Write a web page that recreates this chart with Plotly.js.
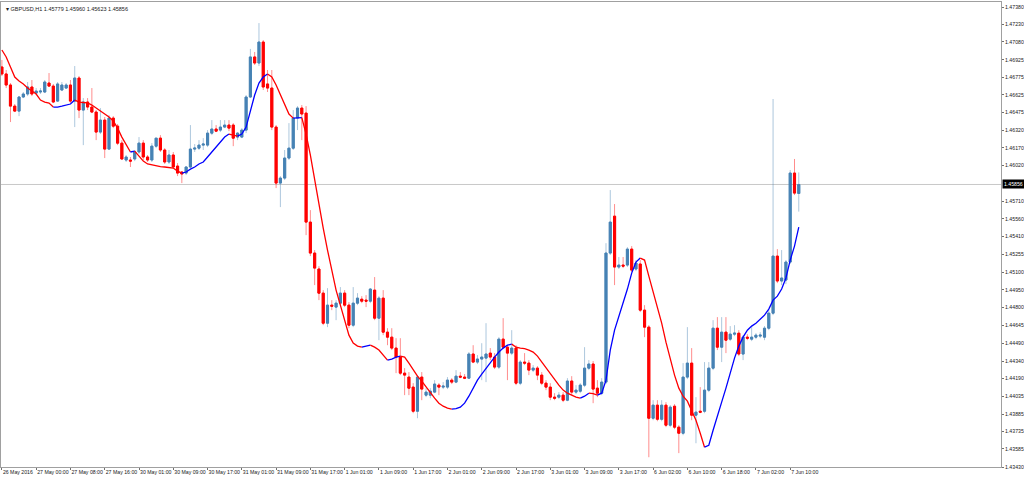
<!DOCTYPE html>
<html><head><meta charset="utf-8">
<script src="https://cdn.plot.ly/plotly-3.0.1.min.js"></script>
<style>html,body{margin:0;padding:0;background:#fff}#chart{width:1024px;height:480px}</style>
</head><body><div id="chart"></div>
<script>
const symbol = "GBPUSD,H1";

const openP = [
1.46865,1.46805,1.46710,1.46529,1.46486,1.46607,1.46633,1.46693,1.46641,1.46650,
1.46650,1.46727,1.46701,1.46572,1.46667,1.46684,1.46710,1.46572,1.46770,1.46495,
1.46564,1.46521,1.46478,1.46306,1.46409,1.46160,1.46426,1.46357,1.46211,1.46066,
1.46066,1.46075,1.46135,1.46211,1.46092,1.46066,1.46185,1.46254,1.46152,1.46049,
1.46109,1.46014,1.45963,1.45954,1.46006,1.46160,1.46168,1.46194,1.46194,1.46297,
1.46332,1.46323,1.46349,1.46366,1.46366,1.46263,1.46263,1.46323,1.46607,1.46951,
1.46899,1.47079,1.46719,1.46684,1.46349,1.45868,1.45911,1.46083,1.46168,1.46426,
1.46512,1.46469,1.45533,1.45267,1.45130,1.44923,1.44665,1.44820,1.44803,1.44837,
1.44923,1.44820,1.44648,1.44837,1.44871,1.44863,1.44854,1.44949,1.44708,1.44880,
1.44588,1.44545,1.44451,1.44374,1.44236,1.44202,1.44116,1.43909,1.44202,1.44047,
1.44047,1.44073,1.44133,1.44116,1.44116,1.44176,1.44159,1.44210,1.44202,1.44193,
1.44400,1.44331,1.44357,1.44365,1.44408,1.44374,1.44288,1.44528,1.44459,1.44408,
1.44451,1.44150,1.44331,1.44322,1.44262,1.44279,1.44219,1.44150,1.44116,1.44030,
1.44030,1.44047,1.44004,1.44168,1.44073,1.44081,1.44133,1.44279,1.44314,1.44107,
1.44064,1.44159,1.45267,1.45584,1.45147,1.45164,1.45164,1.45301,1.45130,1.45173,
1.44777,1.44631,1.43849,1.43961,1.43840,1.43961,1.43789,1.43952,1.43772,1.43720,
1.44202,1.44322,1.43875,1.43909,1.43909,1.44090,1.44279,1.44622,1.44459,1.44588,
1.44528,1.44571,1.44579,1.44400,1.44545,1.44528,1.44545,1.44554,1.44545,1.44622,
1.44751,1.45241,1.45027,1.45035,1.45190,1.45954,1.45779
];
const highP = [
1.46925,1.46839,1.46727,1.46547,1.46615,1.46650,1.46736,1.46753,1.46684,1.46684,
1.46753,1.46813,1.46719,1.46736,1.46736,1.46727,1.46753,1.46873,1.46787,1.46598,
1.46598,1.46684,1.46495,1.46512,1.46435,1.46452,1.46443,1.46375,1.46237,1.46109,
1.46092,1.46152,1.46263,1.46237,1.46109,1.46211,1.46254,1.46280,1.46168,1.46152,
1.46135,1.46040,1.45971,1.46014,1.46366,1.46203,1.46237,1.46254,1.46323,1.46409,
1.46366,1.46409,1.46409,1.46409,1.46383,1.46306,1.46340,1.46624,1.47020,1.46994,
1.47242,1.47096,1.46839,1.46839,1.46366,1.45928,1.46152,1.46383,1.46495,1.46529,
1.46538,1.46529,1.45636,1.45293,1.45155,1.44949,1.44966,1.44863,1.44863,1.44975,
1.44949,1.44846,1.44975,1.44923,1.44897,1.44906,1.44966,1.45061,1.44897,1.44949,
1.44622,1.44622,1.44536,1.44536,1.44279,1.44245,1.44150,1.44219,1.44245,1.44107,
1.44107,1.44176,1.44150,1.44159,1.44202,1.44193,1.44262,1.44245,1.44228,1.44417,
1.44476,1.44391,1.44493,1.44665,1.44451,1.44408,1.44545,1.44708,1.44476,1.44605,
1.44476,1.44348,1.44408,1.44348,1.44305,1.44296,1.44245,1.44176,1.44150,1.44064,
1.44073,1.44073,1.44193,1.44210,1.44133,1.44150,1.44459,1.44348,1.44340,1.44176,
1.44193,1.45352,1.45808,1.45688,1.45233,1.45233,1.45318,1.45327,1.45207,1.45207,
1.44820,1.44648,1.44004,1.44004,1.44004,1.43987,1.43961,1.43970,1.43789,1.44322,
1.44631,1.44451,1.44030,1.44116,1.44331,1.44331,1.44691,1.44717,1.44717,1.44717,
1.44640,1.44648,1.44605,1.44562,1.44571,1.44631,1.44579,1.44588,1.44640,1.44777,
1.46590,1.45301,1.45293,1.45207,1.45980,1.46075,1.45960
];
const lowP = [
1.46787,1.46684,1.46392,1.46478,1.46443,1.46598,1.46615,1.46615,1.46624,1.46633,
1.46641,1.46693,1.46555,1.46564,1.46658,1.46676,1.46555,1.46349,1.46426,1.46194,
1.46495,1.46469,1.46237,1.46289,1.46083,1.46152,1.46340,1.46194,1.46066,1.46049,
1.46006,1.46057,1.46118,1.46066,1.46049,1.46049,1.46168,1.46135,1.46032,1.46032,
1.45997,1.45928,1.45868,1.45937,1.45997,1.46135,1.46152,1.46152,1.46177,1.46280,
1.46306,1.46306,1.46340,1.46314,1.46185,1.46237,1.46254,1.46297,1.46598,1.46882,
1.46873,1.46667,1.46650,1.46323,1.45825,1.45662,1.45894,1.46066,1.46152,1.46323,
1.46237,1.45421,1.45241,1.44992,1.44863,1.44648,1.44631,1.44777,1.44691,1.44820,
1.44803,1.44622,1.44631,1.44820,1.44837,1.44803,1.44837,1.44691,1.44519,1.44562,
1.44476,1.44434,1.44236,1.44219,1.44047,1.44047,1.43892,1.43849,1.44004,1.44030,
1.44021,1.44064,1.44047,1.44099,1.44099,1.44142,1.44150,1.44193,1.44185,1.44185,
1.44322,1.44314,1.44176,1.44159,1.44348,1.44271,1.44271,1.44442,1.44176,1.44391,
1.44133,1.44133,1.44305,1.44219,1.44245,1.44176,1.44133,1.44090,1.44004,1.44004,
1.44013,1.43987,1.43995,1.44047,1.44056,1.44064,1.44116,1.44262,1.43978,1.44030,
1.44047,1.44142,1.45250,1.44992,1.45130,1.45138,1.45147,1.45104,1.45112,1.44760,
1.44545,1.43514,1.43832,1.43823,1.43823,1.43772,1.43772,1.43755,1.43549,1.43703,
1.44185,1.43832,1.43634,1.43892,1.43892,1.44073,1.44262,1.44434,1.44331,1.44408,
1.44511,1.44554,1.44382,1.44348,1.44519,1.44511,1.44528,1.44536,1.44519,1.44605,
1.44734,1.45009,1.44992,1.45001,1.45173,1.45765,1.45623
];
const closeP = [
1.46805,1.46710,1.46529,1.46486,1.46607,1.46633,1.46693,1.46633,1.46658,1.46658,
1.46736,1.46701,1.46564,1.46719,1.46710,1.46710,1.46572,1.46770,1.46495,1.46564,
1.46521,1.46478,1.46306,1.46409,1.46160,1.46426,1.46357,1.46211,1.46075,1.46092,
1.46057,1.46135,1.46211,1.46092,1.46066,1.46185,1.46254,1.46152,1.46049,1.46109,
1.46006,1.45954,1.45946,1.46006,1.46160,1.46168,1.46194,1.46203,1.46297,1.46332,
1.46314,1.46349,1.46366,1.46340,1.46254,1.46297,1.46323,1.46607,1.46951,1.46899,
1.47079,1.46693,1.46684,1.46349,1.45868,1.45911,1.46083,1.46168,1.46426,1.46512,
1.46461,1.45533,1.45267,1.45138,1.44923,1.44665,1.44820,1.44811,1.44837,1.44923,
1.44820,1.44648,1.44837,1.44880,1.44854,1.44854,1.44958,1.44708,1.44880,1.44588,
1.44545,1.44451,1.44374,1.44236,1.44219,1.44107,1.43909,1.44202,1.44099,1.44073,
1.44081,1.44142,1.44116,1.44124,1.44176,1.44159,1.44210,1.44202,1.44193,1.44400,
1.44331,1.44357,1.44374,1.44400,1.44374,1.44288,1.44528,1.44459,1.44408,1.44451,
1.44150,1.44331,1.44322,1.44262,1.44279,1.44219,1.44150,1.44116,1.44030,1.44021,
1.44047,1.44004,1.44168,1.44073,1.44090,1.44133,1.44279,1.44314,1.44099,1.44064,
1.44159,1.45267,1.45533,1.45147,1.45164,1.45155,1.45301,1.45121,1.45181,1.44777,
1.44631,1.43849,1.43961,1.43840,1.43961,1.43789,1.43944,1.43772,1.43720,1.44202,
1.44322,1.43875,1.43901,1.43901,1.44090,1.44279,1.44622,1.44459,1.44588,1.44519,
1.44571,1.44579,1.44400,1.44545,1.44536,1.44545,1.44562,1.44562,1.44622,1.44751,
1.45241,1.45027,1.45053,1.45190,1.45954,1.45782,1.45856
];
const maLine = [
1.47011,1.46951,1.46865,1.46779,1.46744,1.46719,1.46684,1.46658,1.46633,1.46581,
1.46564,1.46555,1.46521,1.46521,1.46529,1.46538,1.46547,1.46581,1.46564,1.46560,
1.46556,1.46538,1.46512,1.46486,1.46461,1.46435,1.46401,1.46340,1.46263,1.46203,
1.46135,1.46143,1.46100,1.46057,1.46032,1.46023,1.46014,1.46010,1.46006,1.46002,
1.45997,1.45971,1.45954,1.45963,1.45988,1.46006,1.46032,1.46049,1.46092,1.46135,
1.46177,1.46220,1.46263,1.46289,1.46280,1.46271,1.46289,1.46349,1.46495,1.46624,
1.46727,1.46779,1.46805,1.46779,1.46710,1.46624,1.46538,1.46461,1.46426,1.46430,
1.46430,1.46289,1.46109,1.45894,1.45679,1.45481,1.45293,1.45121,1.44949,1.44820,
1.44691,1.44562,1.44494,1.44468,1.44459,1.44468,1.44476,1.44459,1.44434,1.44391,
1.44348,1.44357,1.44374,1.44382,1.44374,1.44322,1.44262,1.44210,1.44168,1.44116,
1.44064,1.44021,1.43978,1.43952,1.43935,1.43927,1.43931,1.43944,1.43978,1.44038,
1.44107,1.44176,1.44228,1.44279,1.44331,1.44374,1.44417,1.44451,1.44476,1.44485,
1.44459,1.44451,1.44446,1.44434,1.44417,1.44382,1.44331,1.44279,1.44236,1.44185,
1.44133,1.44090,1.44064,1.44047,1.44030,1.44021,1.44038,1.44064,1.44060,1.44047,
1.44064,1.44176,1.44434,1.44605,1.44726,1.44829,1.44958,1.45095,1.45190,1.45224,
1.45207,1.45069,1.44932,1.44794,1.44665,1.44502,1.44348,1.44219,1.44107,1.44038,
1.43995,1.43918,1.43832,1.43720,1.43600,1.43617,1.43746,1.43875,1.43987,1.44107,
1.44236,1.44365,1.44468,1.44545,1.44605,1.44640,1.44665,1.44700,1.44734,1.44786,
1.44863,1.44897,1.44958,1.45053,1.45207,1.45327,1.45490
];

const timeLabels = ["26 May 2016","27 May 00:00","27 May 08:00","27 May 16:00","30 May 01:00","30 May 09:00",
  "30 May 17:00","31 May 01:00","31 May 09:00","31 May 17:00","1 Jun 01:00","1 Jun 09:00","1 Jun 17:00",
  "2 Jun 01:00","2 Jun 09:00","2 Jun 17:00","3 Jun 01:00","3 Jun 09:00","3 Jun 17:00","6 Jun 02:00",
  "6 Jun 10:00","6 Jun 18:00","7 Jun 02:00","7 Jun 10:00"];
const priceTicks = ["1.47380","1.47230","1.47080","1.46925","1.46775","1.46625","1.46475","1.46320","1.46170",
  "1.46020","1.45710","1.45560","1.45410","1.45255","1.45100","1.44950","1.44800","1.44645","1.44490",
  "1.44340","1.44190","1.44035","1.43885","1.43735","1.43585","1.43430"];

const n = closeP.length;
const idx = Array.from({length: n}, (_, i) => i);
const BARS_PER_LABEL = 8;
const tickVals = timeLabels.map((_, k) => k * BARS_PER_LABEL);

const UP = '#4682B4', DOWN = '#FF0000';
const UP_W = 'rgba(70,130,180,0.45)', DOWN_W = 'rgba(255,0,0,0.45)';

const wicks = {
  type: 'candlestick', x: idx, open: openP, high: highP, low: lowP, close: closeP,
  increasing: {line: {color: UP_W, width: 1}, fillcolor: UP_W},
  decreasing: {line: {color: DOWN_W, width: 1}, fillcolor: DOWN_W},
  whiskerwidth: 0, hoverinfo: 'skip', showlegend: false
};
const bodies = {
  type: 'candlestick', x: idx, open: openP, close: closeP,
  high: idx.map(i => Math.max(openP[i], closeP[i])),
  low: idx.map(i => Math.min(openP[i], closeP[i])),
  increasing: {line: {color: UP, width: 1}, fillcolor: UP},
  decreasing: {line: {color: DOWN, width: 1}, fillcolor: DOWN},
  whiskerwidth: 0, hoverinfo: 'skip', showlegend: false
};

const maTraces = [];
let seg = null;
for (let i = 1; i < n; i++) {
  const col = maLine[i] < maLine[i - 1] ? '#FF0000' : '#0000FF';
  if (!seg || seg.col !== col) {
    seg = {col: col, xs: [i - 1], ys: [maLine[i - 1]]};
    maTraces.push(seg);
  }
  seg.xs.push(i); seg.ys.push(maLine[i]);
}
const maData = maTraces.map(s => ({
  type: 'scatter', mode: 'lines', x: s.xs, y: s.ys,
  line: {color: s.col, width: 1.3}, hoverinfo: 'skip', showlegend: false
}));

const last = n - 1;
const lastClose = closeP[last];
const tickFont = {family: 'Liberation Sans, Arial, sans-serif', size: 5.2, color: '#202020'};

const layout = {
  width: 1024, height: 480,
  margin: {l: 1, r: 23, t: 2, b: 13, pad: 0},
  paper_bgcolor: '#FFFFFF', plot_bgcolor: '#FFFFFF',
  showlegend: false, hovermode: false,
  xaxis: {
    range: [-0.21, 233.2], showgrid: false, zeroline: false,
    showline: true, mirror: true, linecolor: '#A0A0A0', linewidth: 1,
    tickmode: 'array', tickvals: tickVals, ticktext: timeLabels, tickangle: 0,
    ticks: 'outside', ticklen: 2, tickcolor: '#707070', tickwidth: 1,
    ticklabelposition: 'outside right', ticklabelstandoff: 0, tickfont: tickFont,
    rangeslider: {visible: false}, automargin: false, fixedrange: true
  },
  yaxis: {
    side: 'right', range: [1.43430, 1.47423], showgrid: false, zeroline: false,
    showline: true, mirror: true, linecolor: '#A0A0A0', linewidth: 1,
    tickmode: 'array', tickvals: priceTicks.map(Number), ticktext: priceTicks,
    ticks: 'outside', ticklen: 2, tickcolor: '#707070', tickwidth: 1,
    ticklabelstandoff: 0, tickfont: tickFont, automargin: false, fixedrange: true
  },
  shapes: [{
    type: 'line', xref: 'paper', x0: 0, x1: 1, yref: 'y', y0: lastClose, y1: lastClose,
    line: {color: '#C8C8C8', width: 1}, layer: 'below'
  }],
  annotations: [
    {
      xref: 'paper', yref: 'paper', x: 0, y: 1, xanchor: 'left', yanchor: 'top',
      xshift: 3, yshift: -2, showarrow: false,
      text: '\u25BE ' + symbol + ' ' + openP[last].toFixed(5) + ' ' + highP[last].toFixed(5) + ' ' +
            lowP[last].toFixed(5) + ' ' + closeP[last].toFixed(5),
      font: {family: 'Liberation Sans, Arial, sans-serif', size: 5.5, color: '#202020'}
    },
    {
      xref: 'paper', yref: 'y', x: 1, y: lastClose, xanchor: 'left', yanchor: 'middle',
      xshift: 1, showarrow: false, text: lastClose.toFixed(5),
      bgcolor: '#000000', borderpad: 1,
      font: {family: 'Liberation Sans, Arial, sans-serif', size: 5.2, color: '#FFFFFF'}
    }
  ]
};

Plotly.newPlot('chart', [wicks, bodies].concat(maData), layout, {staticPlot: true, displayModeBar: false});
</script>
</body></html>
